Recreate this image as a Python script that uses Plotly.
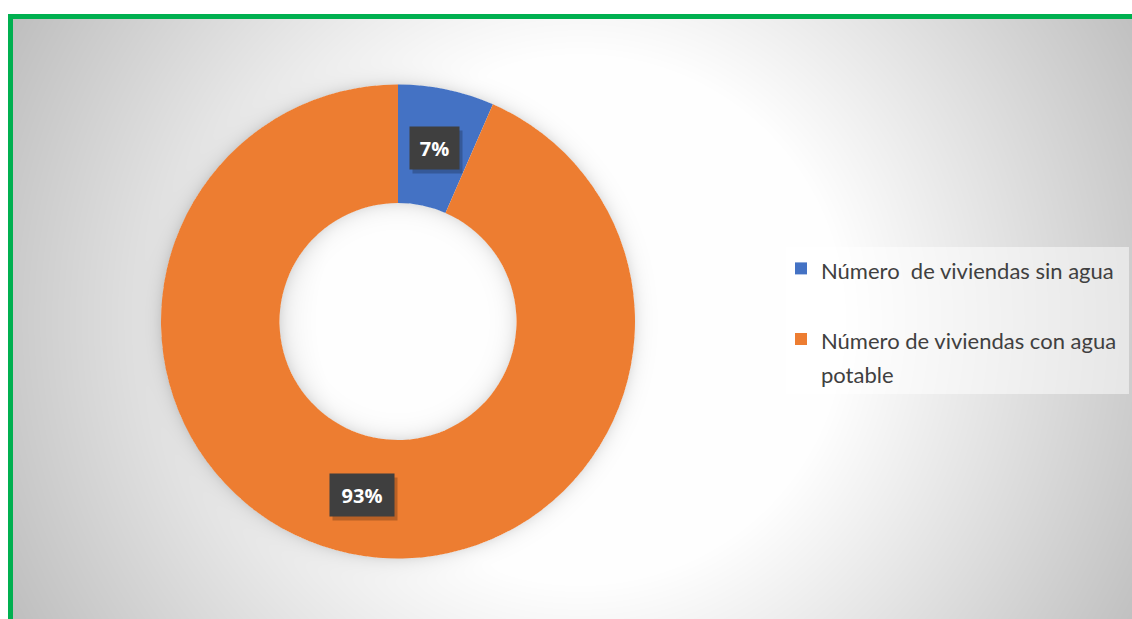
import base64, struct, zlib
import numpy as np
import plotly.graph_objects as go

# ---------------- data ----------------
labels = ["Número\u00a0 de viviendas sin agua", "Número de viviendas con agua potable"]
legend_text = ["Número\u00a0 de viviendas sin agua<br>\u00a0", "Número de viviendas con agua<br>potable"]
values = [20, 285]
colors = ["#4472C4", "#ED7D31"]

W, H = 1132, 619
CX, CY, R = 398.0, 321.5, 237.0
HOLE = 0.5

# ---------------- background image (gradient + soft shadows) ----------------
yy, xx = np.mgrid[0:H, 0:W].astype(float) + 0.5
r = np.hypot(xx - 580, yy - 320)
val = 255 - np.clip(r - 260, 0, None) * 0.168
val = np.clip(val, 190, 255)
rd = np.hypot(xx - CX, yy - CY)
d = rd - R
val = np.where(d > 0, val - 26 * np.exp(-np.clip(d, 0, None) / 7), val)
Rh = R * HOLE
d2 = Rh - rd
val = np.where((d2 > 0), val - 28 * np.exp(-np.clip(d2, 0, None) / 8), val)
val[:, :8] = 255
val[:14, :] = 255
img = np.clip(val, 0, 255).astype(np.uint8)


def png_gray(a):
    h, w = a.shape
    raw = b"".join(b"\x00" + a[i].tobytes() for i in range(h))

    def chunk(t, data):
        c = struct.pack(">I", len(data)) + t + data
        return c + struct.pack(">I", zlib.crc32(t + data) & 0xFFFFFFFF)

    return (b"\x89PNG\r\n\x1a\n" + chunk(b"IHDR", struct.pack(">IIBBBBB", w, h, 8, 0, 0, 0, 0))
            + chunk(b"IDAT", zlib.compress(raw, 9)) + chunk(b"IEND", b""))


src = "data:image/png;base64," + base64.b64encode(png_gray(img)).decode()

# ---------------- figure ----------------
fig = go.Figure()
fig.add_trace(go.Pie(
    labels=[f'<span style="font-size:22px">{t}</span>' for t in legend_text],
    values=values,
    marker=dict(colors=colors, line=dict(width=0)),
    hole=HOLE, sort=False, direction="clockwise", rotation=0,
    textinfo="none", hoverinfo="label+percent",
    domain=dict(x=[(CX - R) / W, (CX + R) / W], y=[1 - (CY + R) / H, 1 - (CY - R) / H]),
))

# data labels placed from the values
total = sum(values)
cum = 0
ann = []
rm = R * (1 + HOLE) / 2
for v in values:
    th = 2 * np.pi * (cum + v / 2) / total
    cum += v
    px = CX + rm * np.sin(th)
    py = CY - rm * np.cos(th)
    txt = f"{round(100 * v / total)}%"
    bw = 31 + 15 * (len(txt) - 2)
    common = dict(x=px / W, y=1 - py / H, xref="paper", yref="paper", showarrow=False,
                  xanchor="center", yanchor="middle", width=bw, height=24, borderpad=9)
    # soft drop shadow behind the label box
    ann.append(dict(common, text=" ", bgcolor="rgba(0,0,0,0.22)", xshift=3, yshift=-4,
                    font=dict(family="Open Sans", size=20)))
    ann.append(dict(common, text=f"<b>{txt}</b>", bgcolor="#3f3f3f",
                    font=dict(family="Open Sans", size=20, color="white")))

shapes = [
    # legend panel
    dict(type="rect", xref="paper", yref="paper", x0=786 / W, x1=1129 / W, y0=1 - 394 / H, y1=1 - 247 / H,
         fillcolor="rgba(255,255,255,0.5)", line=dict(width=0), layer="below"),
    # green frame
    dict(type="rect", xref="paper", yref="paper", x0=10.5 / W, x1=1145 / W, y0=1 - 640 / H, y1=1 - 16.5 / H,
         fillcolor="rgba(0,0,0,0)", line=dict(color="#00B050", width=5), layer="above"),
]

fig.update_layout(
    width=W, height=H, margin=dict(l=0, r=0, t=0, b=0),
    paper_bgcolor="white", plot_bgcolor="white",
    images=[dict(source=src, xref="paper", yref="paper", x=0, y=1, sizex=1, sizey=1,
                 xanchor="left", yanchor="top", sizing="stretch", layer="below")],
    shapes=shapes, annotations=ann,
    showlegend=True,
    legend=dict(x=781 / W, y=1 - 245 / H, xanchor="left", yanchor="top", valign="top",
                bgcolor="rgba(0,0,0,0)", font=dict(family="Lato", size=26, color="#404040"),
                traceorder="normal"),
)
fig.write_html("out.html", config={"displayModeBar": False},
               post_script="document.body.style.margin='0';")
